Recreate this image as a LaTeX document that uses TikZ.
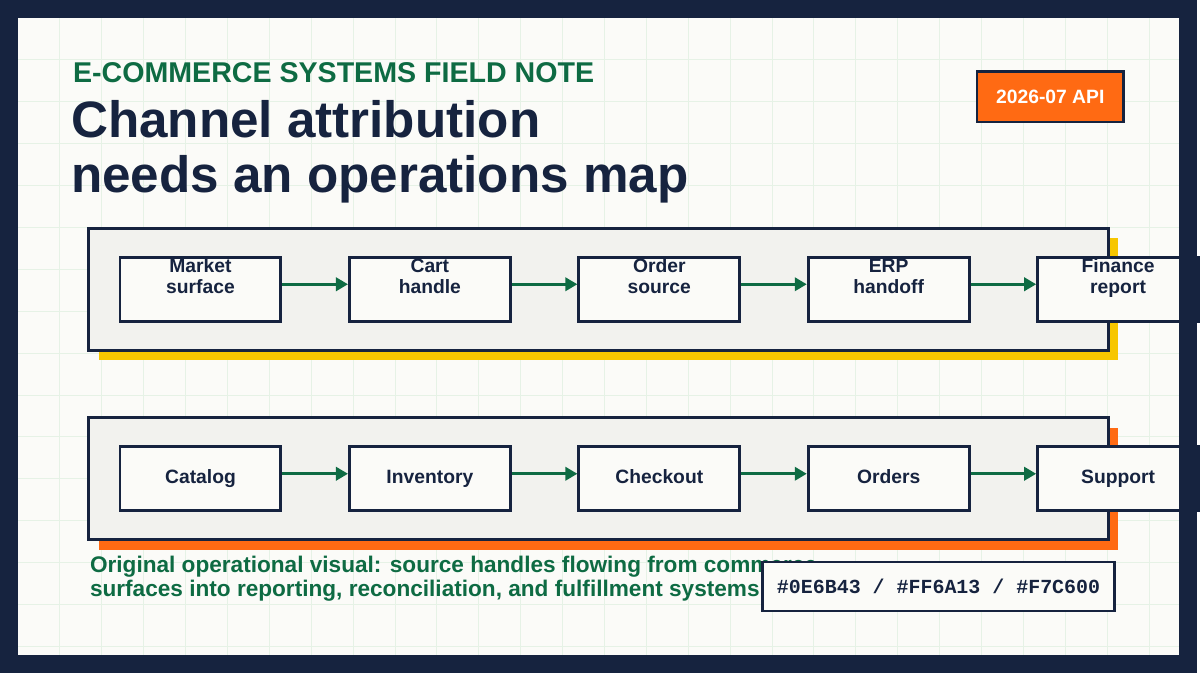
\documentclass[tikz,border=0pt]{standalone}
\usepackage{fontspec}
\setmainfont{Liberation Sans}
\setmonofont{Liberation Mono}
\usetikzlibrary{arrows.meta, positioning}
\definecolor{navy}{HTML}{16233F}
\definecolor{leaf}{HTML}{0E6B43}
\definecolor{blaze}{HTML}{FF6A13}
\definecolor{sun}{HTML}{F7C600}
\definecolor{paper}{HTML}{FBFBF8}
\definecolor{panelfill}{HTML}{F2F2EE}
\tikzset{
    stage/.style={rectangle, draw=navy, line width=2.2pt, fill=paper, minimum width=121pt, minimum height=48pt, align=center, text height=10pt, text depth=3pt, font=\bfseries\fontsize{14.5}{16}\selectfont, text=navy},
    panel/.style={rectangle, draw=navy, line width=2.2pt, fill=panelfill},
    flow/.style={draw=leaf, line width=2pt, -{Triangle[length=9pt, width=10pt]}}
}
\begin{document}
\begin{tikzpicture}[x=0.75pt, y=-0.75pt]
    % frame and grid
    \fill[paper] (0,0) rectangle (1200,675);
    \foreach \g in {60,102,...,1182} \draw[green!30!gray!15, line width=0.6pt] (\g,18) -- (\g,657);
    \foreach \g in {60,102,...,657} \draw[green!30!gray!15, line width=0.6pt] (18,\g) -- (1182,\g);

    % header
    \node (kicker) [anchor=base west, inner sep=0pt, text=leaf, font=\bfseries\fontsize{21.5}{24}\selectfont] at (73,83) {E-COMMERCE SYSTEMS FIELD NOTE};
    \node (title) [anchor=north west, inner sep=0pt, text=navy, align=left, font=\bfseries\fontsize{38.5}{41.5}\selectfont] at (71,100) {Channel attribution\\needs an operations map};
    \node (badge) [rectangle, draw=navy, line width=2pt, fill=blaze, text=white, minimum width=110pt, minimum height=38pt, font=\bfseries\fontsize{14.5}{16}\selectfont] at (1053,97) {2026-07 API};

    % panels
    \fill[sun] (99,239) rectangle (1121,361);
    \draw[panel] (89,229) rectangle (1111,351);
    \fill[blaze] (99,429) rectangle (1121,551);
    \draw[panel] (89,419) rectangle (1111,541);

    % top row
    \node (market) [stage] at (201,290) {Market\\surface};
    \node (cart) [stage] at (431,290) {Cart\\handle};
    \node (source) [stage] at (661,290) {Order\\source};
    \node (erp) [stage] at (891,290) {ERP\\handoff};
    \node (finance) [stage] at (1121,290) {Finance\\report};
    \draw[flow] (market.east |- 0,285) -- (cart.west |- 0,285);
    \draw[flow] (cart.east |- 0,285) -- (source.west |- 0,285);
    \draw[flow] (source.east |- 0,285) -- (erp.west |- 0,285);
    \draw[flow] (erp.east |- 0,285) -- (finance.west |- 0,285);

    % bottom row
    \node (catalog) [stage] at (201,480) {Catalog};
    \node (inventory) [stage] at (431,480) {Inventory};
    \node (checkout) [stage] at (661,480) {Checkout};
    \node (orders) [stage] at (891,480) {Orders};
    \node (support) [stage] at (1121,480) {Support};
    \draw[flow] (catalog.east |- 0,475) -- (inventory.west |- 0,475);
    \draw[flow] (inventory.east |- 0,475) -- (checkout.west |- 0,475);
    \draw[flow] (checkout.east |- 0,475) -- (orders.west |- 0,475);
    \draw[flow] (orders.east |- 0,475) -- (support.west |- 0,475);

    % caption
    \node (caption) [anchor=north west, inner sep=0pt, text=leaf, align=left, font=\bfseries\fontsize{17}{18}\selectfont] at (90,557) {Original operational visual: source handles flowing from commerce\\surfaces into reporting, reconciliation, and fulfillment systems};
    \node (palette) [rectangle, draw=navy, line width=2pt, fill=paper, minimum width=265pt, minimum height=37pt, text=navy, font=\ttfamily\bfseries\fontsize{15}{16}\selectfont] at (941,588) {\#0E6B43 / \#FF6A13 / \#F7C600};

    % outer border on top
    \draw[navy, line width=13.5pt] (9,9) rectangle (1191,666);
\end{tikzpicture}
\end{document}
